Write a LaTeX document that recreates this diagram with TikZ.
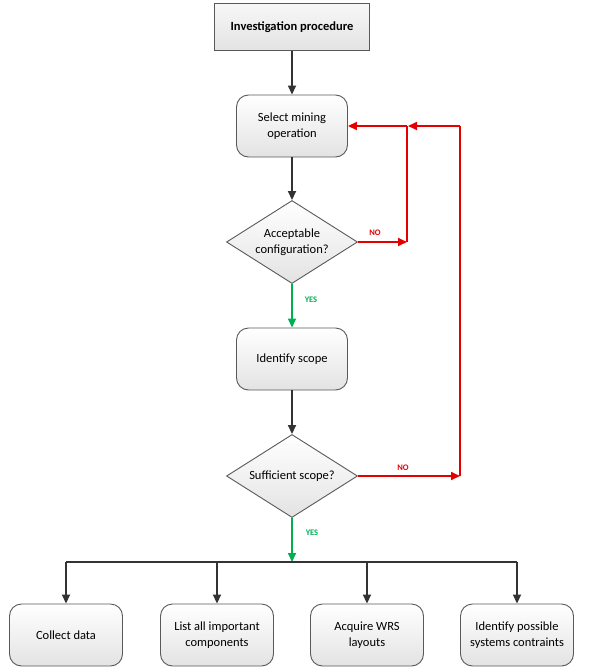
\documentclass[tikz,border=0pt]{standalone}
\usepackage{fontspec}
\setmainfont{Carlito}
\usetikzlibrary{arrows.meta,shapes.geometric,positioning}

\begin{document}
\begin{tikzpicture} [
    x=1pt, y=-1pt,
    stepbox/.style={draw=gray!70!black, line width=0.9pt, rounded corners=12pt, top color=white, bottom color=gray!22, minimum width=111pt, minimum height=62pt, align=center, font=\fontsize{12.5}{15.5}\selectfont, inner sep=2pt},
    startbox/.style={draw=gray!70!black, line width=0.9pt, top color=gray!6, bottom color=gray!22, minimum width=155pt, minimum height=47pt, align=center, font=\bfseries\fontsize{12.5}{15}\selectfont},
    decision/.style={diamond, aspect=1.58, draw=gray!70!black, line width=0.9pt, top color=white, bottom color=gray!22, minimum width=131pt, minimum height=83pt, inner sep=0pt, align=center, font=\fontsize{12.5}{15.5}\selectfont},
    flow/.style={draw=gray!40!black, line width=1.7pt, -{Triangle[length=9pt,width=8pt]}},
    yesflow/.style={draw=yesgreen, line width=1.7pt, -{Triangle[length=9pt,width=8pt]}},
    noflow/.style={draw=red!90!black, line width=1.7pt, -{Triangle[length=9pt,width=8pt]}},
    answer/.style={font=\bfseries\fontsize{8.5}{9}\selectfont, inner sep=1pt}
  ]

\definecolor{yesgreen}{RGB}{0, 176, 80}

\useasboundingbox (0,0) rectangle (605,672);

% boxes
\node[startbox] (start) at (292,27) {Investigation procedure};
\node[stepbox] (select) at (292,126) {Select mining\\operation};
\node[decision] (accept) at (292,242) {Acceptable\\configuration?};
\node[stepbox] (scope) at (292,359) {Identify scope};
\node[decision] (enough) at (292,476) {Sufficient scope?};

\node[stepbox, minimum width=113pt] (collect) at (66,635) {Collect data};
\node[stepbox, minimum width=113pt] (list) at (217,635) {List all important\\components};
\node[stepbox, minimum width=113pt] (acquire) at (367,635) {Acquire WRS\\layouts};
\node[stepbox, minimum width=113pt] (limits) at (517,635) {Identify possible\\systems contraints};

% main flow
\draw[flow] (start) -- (select);
\draw[flow] (select) -- (accept);
\draw[yesflow] (accept) -- (scope);
\draw[flow] (scope) -- (enough);

% feedback loops
\coordinate (inner low) at (407,242);
\coordinate (inner high) at (407,126);
\coordinate (outer low) at (460,476);
\coordinate (outer high) at (460,126);

\draw[noflow] (accept.east) -- (inner low);
\draw[red!90!black, line width=1.7pt] (inner low) -- (inner high);
\draw[noflow] (inner high) -- (select.east);
\draw[noflow] (enough.east) -- (outer low);
\draw[red!90!black, line width=1.7pt] (outer low) -- (outer high);
\draw[noflow] (outer high) -- ([xshift=1pt]inner high);

% branch to tasks
\coordinate (bus) at (292,562);
\coordinate (bus left) at (66,562);
\coordinate (bus right) at (517,562);
\draw[yesflow] (enough.south) -- (bus);
\draw[gray!40!black, line width=1.7pt] (bus left) -- (bus right);
\foreach \task in {collect,list,acquire,limits}
  \draw[flow] (\task.north |- bus) -- (\task.north);

% labels
\node[answer, text=red!90!black] (no1) at (375,233) {NO};
\node[answer, text=red!90!black] (no2) at (403,468) {NO};
\node[answer, text=yesgreen] (yes1) at (311,300) {YES};
\node[answer, text=yesgreen] (yes2) at (312,533) {YES};

\end{tikzpicture}
\end{document}
